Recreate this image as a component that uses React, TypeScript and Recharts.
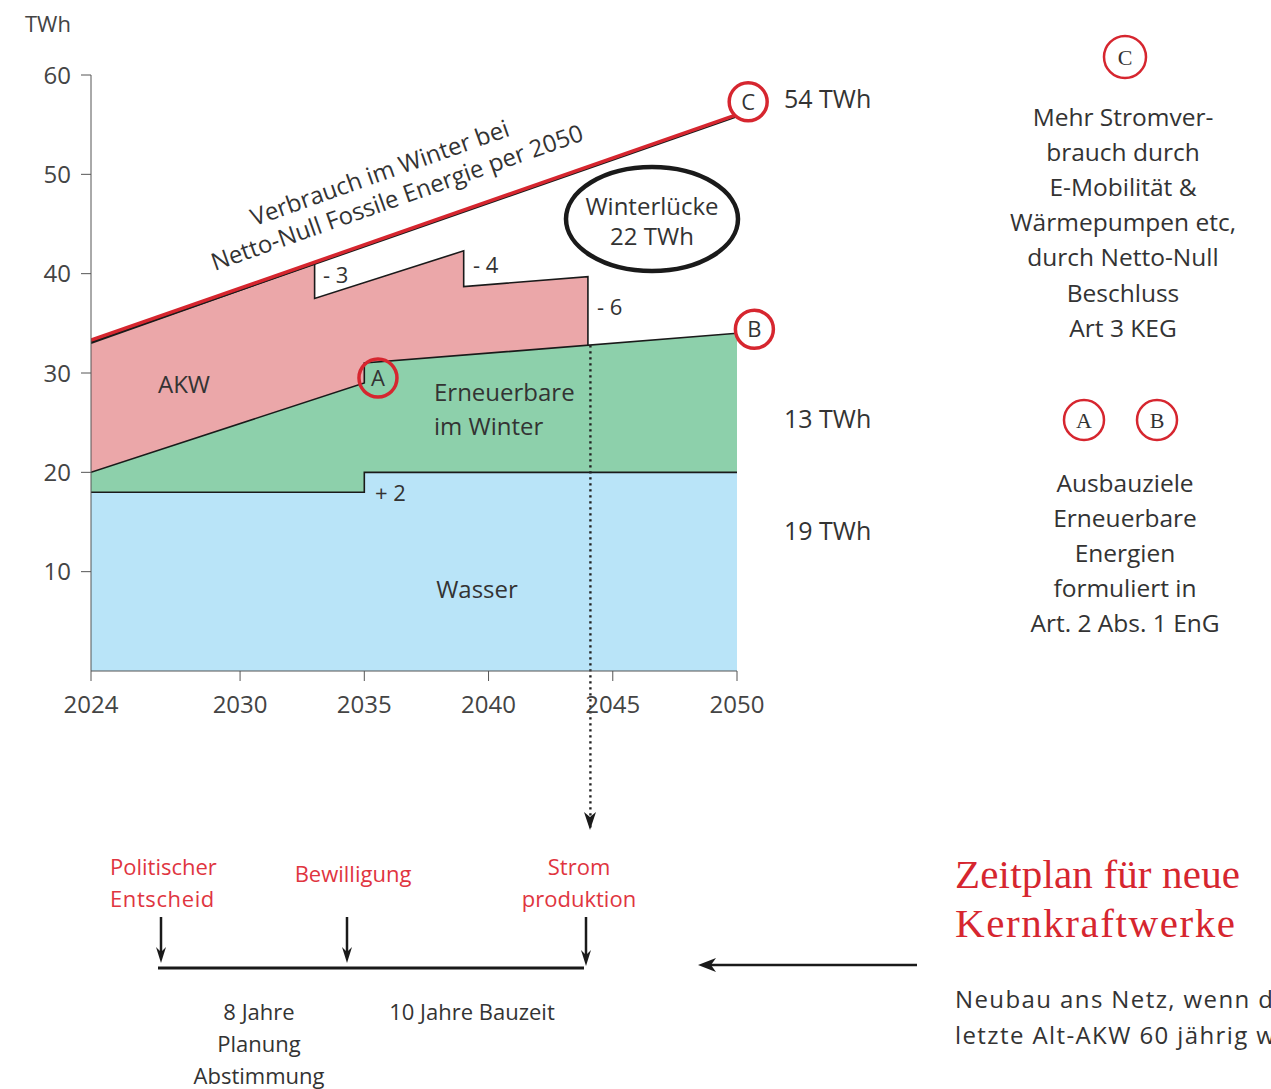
import React from 'react';
import { ComposedChart, Area, Line, XAxis, YAxis, ReferenceLine, ReferenceDot } from 'recharts';

const xTicks = [2024, 2030, 2035, 2040, 2045, 2050];
const yTicks = [10, 20, 30, 40, 50, 60];

const wasserData = [
  { year: 2024, v: 18 },
  { year: 2035, v: 18 },
  { year: 2035, v: 20 },
  { year: 2050, v: 20 },
];
const erneuerbareData = [
  { year: 2024, v: 20 },
  { year: 2035, v: 29 },
  { year: 2035, v: 31 },
  { year: 2050, v: 34 },
];
const akwData = [
  { year: 2024, v: 33 },
  { year: 2033, v: 41 },
  { year: 2033, v: 37.5 },
  { year: 2039, v: 42.3 },
  { year: 2039, v: 38.7 },
  { year: 2044, v: 39.7 },
  { year: 2044, v: 32.8 },
];
const verbrauchData = [
  { year: 2024, v: 33.3 },
  { year: 2050, v: 56 },
];
const markers = [
  { id: 'A', year: 2035.55, v: 29.5, fill: 'none' },
  { id: 'B', year: 2050.7, v: 34.4, fill: '#fff' },
  { id: 'C', year: 2050.45, v: 57.3, fill: '#fff' },
];
const stromStart = { year: 2044.1, top: 32.8, bottom: -16 };

const SANS = '"Open Sans", sans-serif';
const SERIF = '"Liberation Serif", "DejaVu Serif", serif';
const TXT = '#333';
const RED = '#d6262f';
const RED_T = '#e0353f';

const T = (props: any) => (
  <text fontFamily={SANS} fontSize={24} fill={TXT} dominantBaseline="central" {...props} />
);

const ArrowDown = ({ x, y1, y2 }: { x: number; y1: number; y2: number }) => (
  <g>
    <line x1={x} y1={y1} x2={x} y2={y2 - 8} stroke="#1a1a1a" strokeWidth={2.5} />
    <path d={`M${x - 5},${y2 - 16} L${x},${y2} L${x + 5},${y2 - 16} L${x},${y2 - 11} Z`} fill="#1a1a1a" />
  </g>
);

export default function App() {
  return (
    <div style={{ position: 'absolute', left: 0, top: 0, width: 1271, height: 1089, overflow: 'hidden', background: '#fff' }}>
      <style>{`.under-line { transform: translate(0px, 2px); }`}</style>
      <ComposedChart
        width={1271}
        height={1089}
        margin={{ top: 75, right: 534, bottom: 388, left: 31 }}
      >
        <XAxis
          type="number"
          dataKey="year"
          domain={[2024, 2050]}
          ticks={xTicks}
          height={30}
          tickSize={10}
          tickMargin={15}
          stroke="#555"
          tick={{ fill: '#444', fontSize: 24, fontFamily: SANS }}
          allowDataOverflow
        />
        <YAxis
          type="number"
          domain={[0, 60]}
          ticks={yTicks}
          width={60}
          tickSize={10}
          tickMargin={10}
          stroke="#555"
          tick={{ fill: '#444', fontSize: 24, fontFamily: SANS }}
          allowDataOverflow
        />
        <Area
          data={akwData}
          dataKey="v"
          type="linear"
          fill="#eba7a9"
          fillOpacity={1}
          stroke="#1a1a1a"
          strokeWidth={1.6}
          isAnimationActive={false}
          dot={false}
          activeDot={false}
        />
        <Area
          data={erneuerbareData}
          dataKey="v"
          type="linear"
          fill="#8dd0ab"
          fillOpacity={1}
          stroke="#1a1a1a"
          strokeWidth={1.6}
          isAnimationActive={false}
          dot={false}
          activeDot={false}
        />
        <Area
          data={wasserData}
          dataKey="v"
          type="linear"
          fill="#b9e4f8"
          fillOpacity={1}
          stroke="#1a1a1a"
          strokeWidth={1.6}
          isAnimationActive={false}
          dot={false}
          activeDot={false}
        />
        <Line
          data={verbrauchData}
          dataKey="v"
          type="linear"
          className="under-line"
          stroke="#1a1a1a"
          strokeWidth={1.6}
          dot={false}
          activeDot={false}
          isAnimationActive={false}
        />
        <Line
          data={verbrauchData}
          dataKey="v"
          type="linear"
          stroke={RED}
          strokeWidth={3.5}
          dot={false}
          activeDot={false}
          isAnimationActive={false}
        />
        <ReferenceLine
          segment={[
            { x: stromStart.year, y: stromStart.top },
            { x: stromStart.year, y: stromStart.bottom },
          ]}
          ifOverflow="visible"
          stroke="#222"
          strokeWidth={2.4}
          strokeDasharray="2.4 3.6"
        />
        {markers.map((m) => (
          <ReferenceDot
            key={m.id}
            x={m.year}
            y={m.v}
            r={19}
            fill={m.fill}
            stroke={RED}
            strokeWidth={3.5}
            ifOverflow="visible"
            label={{ value: m.id, position: 'center', fill: TXT, fontSize: 22, fontFamily: SANS }}
          />
        ))}
      </ComposedChart>

      <svg
        width={1271}
        height={1089}
        style={{ position: 'absolute', left: 0, top: 0, pointerEvents: 'none' }}
      >
        <T x={25} y={23} fontSize={22} fill="#444">TWh</T>

        <g transform="rotate(-19.5 390 184)">
          <T x={384} y={169} textAnchor="middle" fontSize={24}>Verbrauch im Winter bei</T>
          <T x={392} y={198} textAnchor="middle" fontSize={24}>Netto-Null Fossile Energie per 2050</T>
        </g>

        <T x={184} y={383} textAnchor="middle">AKW</T>
        <T x={434} y={391}>Erneuerbare</T>
        <T x={434} y={425}>im Winter</T>
        <T x={477} y={588} textAnchor="middle">Wasser</T>
        <T x={323} y={274} fontSize={22}>- 3</T>
        <T x={473} y={264} fontSize={22}>- 4</T>
        <T x={597} y={306} fontSize={22}>- 6</T>
        <T x={375} y={492} fontSize={22}>+ 2</T>

        <T x={784} y={98} fontSize={25}>54 TWh</T>
        <T x={784} y={418} fontSize={25}>13 TWh</T>
        <T x={784} y={530} fontSize={25}>19 TWh</T>

        <ellipse cx={652} cy={219} rx={86} ry={52} fill="none" stroke="#1a1a1a" strokeWidth={4.5} />
        <T x={652} y={205} textAnchor="middle">Winterlücke</T>
        <T x={652} y={235} textAnchor="middle">22 TWh</T>

        {/* dotted arrow head */}
        <path d="M584,812 L590,830 L596,812 L590,817 Z" fill="#1a1a1a" />

        {/* right panel */}
        <circle cx={1125} cy={57} r={21} fill="none" stroke={RED} strokeWidth={2.5} />
        <text x={1125} y={57} textAnchor="middle" dominantBaseline="central" fontFamily={SERIF} fontSize={22} fill={TXT}>C</text>
        {['Mehr Stromver-', 'brauch durch', 'E-Mobilität &', 'Wärmepumpen etc,', 'durch Netto-Null', 'Beschluss', 'Art 3 KEG'].map((s, i) => (
          <T key={s} x={1123} y={116 + i * 35.2} textAnchor="middle" fontSize={24.5}>{s}</T>
        ))}
        <circle cx={1084} cy={420} r={20} fill="none" stroke={RED} strokeWidth={2.5} />
        <text x={1084} y={420} textAnchor="middle" dominantBaseline="central" fontFamily={SERIF} fontSize={22} fill={TXT}>A</text>
        <circle cx={1157} cy={420} r={20} fill="none" stroke={RED} strokeWidth={2.5} />
        <text x={1157} y={420} textAnchor="middle" dominantBaseline="central" fontFamily={SERIF} fontSize={22} fill={TXT}>B</text>
        {['Ausbauziele', 'Erneuerbare', 'Energien', 'formuliert in', 'Art. 2 Abs. 1 EnG'].map((s, i) => (
          <T key={s} x={1125} y={482 + i * 35.2} textAnchor="middle" fontSize={24.5}>{s}</T>
        ))}

        {/* timeline */}
        <T x={110} y={866} fontSize={22} fill={RED_T}>Politischer</T>
        <T x={110} y={898} fontSize={22} fill={RED_T} letterSpacing={0.6}>Entscheid</T>
        <T x={353} y={873} fontSize={22} fill={RED_T} textAnchor="middle">Bewilligung</T>
        <T x={579} y={866} fontSize={22} fill={RED_T} textAnchor="middle">Strom</T>
        <T x={579} y={898} fontSize={22} fill={RED_T} textAnchor="middle">produktion</T>
        <ArrowDown x={161} y1={917} y2={963} />
        <ArrowDown x={347} y1={917} y2={963} />
        <ArrowDown x={586} y1={917} y2={966} />
        <line x1={158} y1={968} x2={584} y2={968} stroke="#1a1a1a" strokeWidth={3} />
        <T x={259} y={1011} fontSize={22} textAnchor="middle">8 Jahre</T>
        <T x={259} y={1043} fontSize={22} textAnchor="middle">Planung</T>
        <T x={259} y={1075} fontSize={22} textAnchor="middle">Abstimmung</T>
        <T x={472} y={1011} fontSize={22} textAnchor="middle">10 Jahre Bauzeit</T>

        {/* left arrow */}
        <line x1={917} y1={965} x2={710} y2={965} stroke="#1a1a1a" strokeWidth={2.5} />
        <path d="M698,965 L716,958 L711,965 L716,972 Z" fill="#1a1a1a" />

        <text x={955} y={888} fontFamily={SERIF} fontSize={41} fill={RED} textLength={285} lengthAdjust="spacing">Zeitplan für neue</text>
        <text x={955} y={937} fontFamily={SERIF} fontSize={41} fill={RED} textLength={280} lengthAdjust="spacing">Kernkraftwerke</text>
        <T x={955} y={998} fontSize={24} letterSpacing={1.4}>Neubau ans Netz, wenn das</T>
        <T x={955} y={1034} fontSize={24} letterSpacing={1.4}>letzte Alt-AKW 60 jährig wird</T>
      </svg>
    </div>
  );
}
